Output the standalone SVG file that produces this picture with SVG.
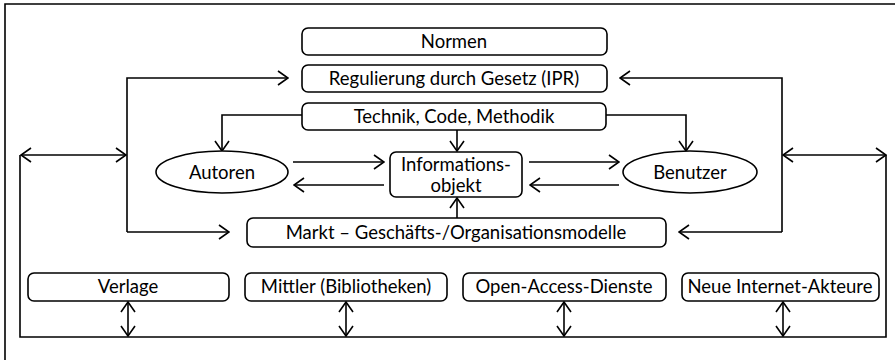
<svg xmlns="http://www.w3.org/2000/svg" width="895" height="360" viewBox="0 0 895 360">
<style>
.b{fill:#fff;stroke:#000;stroke-width:1.6}
.t{font-family:Lato,"Open Sans",sans-serif;font-size:18.5px;fill:#000;text-anchor:middle}
.c{fill:none;stroke:#000;stroke-width:1.6}
.a{marker-end:url(#ah)}
.d{marker-start:url(#as);marker-end:url(#ah)}
</style>
<defs>
<marker id="ah" viewBox="0 0 12 16" refX="11" refY="8" markerWidth="12" markerHeight="16" markerUnits="userSpaceOnUse" orient="auto"><path d="M1,1 L11,8 L1,15" fill="none" stroke="#000" stroke-width="1.6"/></marker>
<marker id="as" viewBox="0 0 12 16" refX="1" refY="8" markerWidth="12" markerHeight="16" markerUnits="userSpaceOnUse" orient="auto"><path d="M11,1 L1,8 L11,15" fill="none" stroke="#000" stroke-width="1.6"/></marker>
</defs>
<rect width="895" height="360" fill="#fff"/>
<g id="frame"><path class="c" d="M5,360 V4 H895"/></g>
<g id="connectors">
<path class="c a" d="M127,232 V78 H288"/>
<path class="c a" d="M127,232 H229"/>
<path class="c a" d="M782,232 V78 H620"/>
<path class="c a" d="M782,232 H679"/>
<path class="c d" d="M21,155 H126"/>
<path class="c d" d="M783,155 H886"/>
<path class="c" d="M20,155 V337 H886 V155"/>
<path class="c a" d="M302,115 H222 V151"/>
<path class="c a" d="M606,115 H686 V151"/>
<path class="c a" d="M457,130 V151"/>
<path class="c a" d="M457,218 V198"/>
<path class="c a" d="M293,162 H384"/>
<path class="c a" d="M384,185 H294"/>
<path class="c a" d="M529,162 H619"/>
<path class="c a" d="M619,185 H530"/>
<path class="c d" d="M128,302 V336"/>
<path class="c d" d="M346,302 V336"/>
<path class="c d" d="M564,302 V336"/>
<path class="c d" d="M783,302 V336"/>
</g>
<g id="normen"><rect class="b" x="302" y="28" width="305" height="27" rx="6"/><text class="t" x="454" y="48">Normen</text></g>
<g id="regulierung"><rect class="b" x="302" y="65" width="305" height="27" rx="6"/><text class="t" x="454" y="85">Regulierung durch Gesetz (IPR)</text></g>
<g id="technik"><rect class="b" x="302" y="103" width="304" height="27" rx="6"/><text class="t" x="454" y="123">Technik, Code, Methodik</text></g>
<g id="autoren"><ellipse class="b" cx="222" cy="172" rx="66" ry="21"/><text class="t" x="222" y="179">Autoren</text></g>
<g id="benutzer"><ellipse class="b" cx="690" cy="172" rx="67" ry="21"/><text class="t" x="690" y="179">Benutzer</text></g>
<g id="info"><rect class="b" x="390" y="152" width="132" height="45" rx="6"/><text class="t" x="456" y="171">Informations-</text><text class="t" x="456" y="192">objekt</text></g>
<g id="markt"><rect class="b" x="247" y="218" width="419" height="29" rx="6"/><text class="t" x="456" y="239">Markt – Geschäfts-/Organisationsmodelle</text></g>
<g id="verlage"><rect class="b" x="28" y="273" width="201" height="28" rx="6"/><text class="t" x="128" y="293">Verlage</text></g>
<g id="mittler"><rect class="b" x="245" y="273" width="202" height="28" rx="6"/><text class="t" x="346" y="293">Mittler (Bibliotheken)</text></g>
<g id="openaccess"><rect class="b" x="463" y="273" width="203" height="28" rx="6"/><text class="t" x="564" y="293">Open-Access-Dienste</text></g>
<g id="neue"><rect class="b" x="682" y="273" width="197" height="28" rx="6"/><text class="t" x="780" y="293">Neue Internet-Akteure</text></g>
</svg>
